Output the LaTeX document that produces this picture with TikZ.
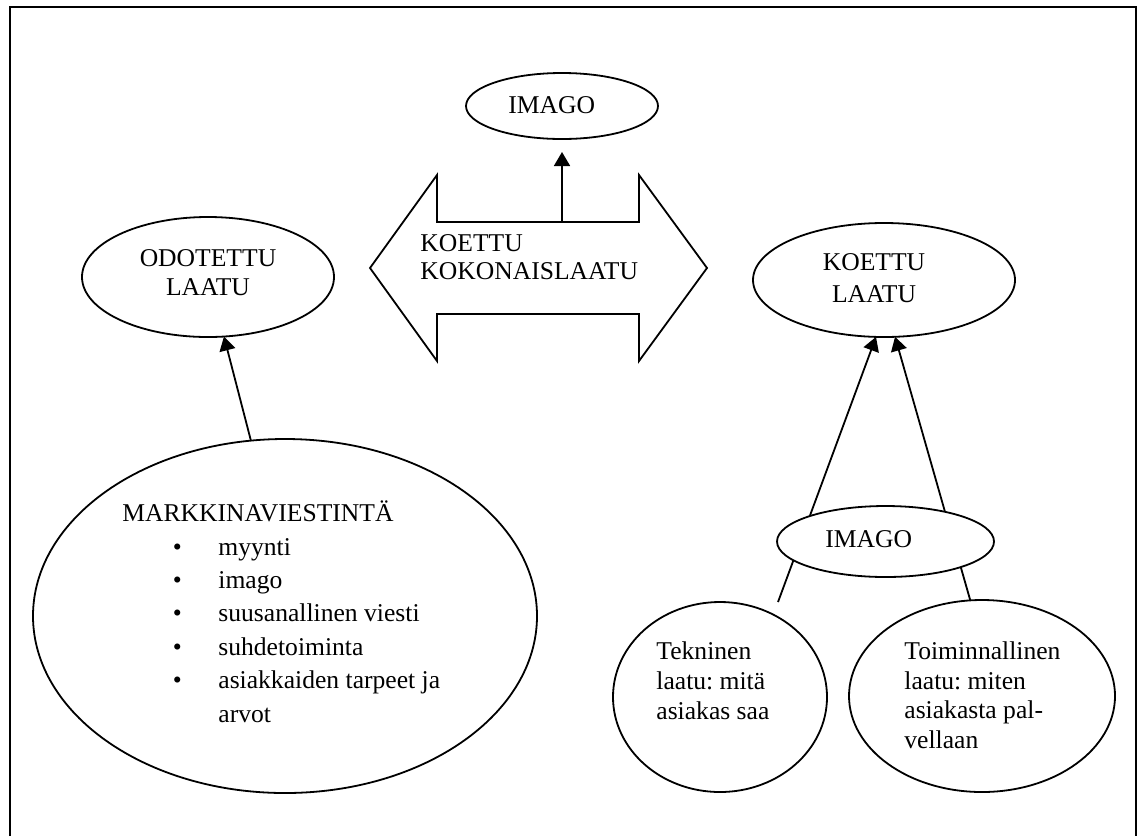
\documentclass[tikz,border=0pt]{standalone}
\usepackage{fontspec}
\setmainfont{Liberation Serif}
\usetikzlibrary{shapes.geometric,arrows.meta,positioning}
\frenchspacing

\begin{document}
\begin{tikzpicture}[x=0.5pt,y=-0.5pt,
    oval/.style={ellipse,draw,line width=0.9pt,inner sep=0pt,outer sep=0pt},
    txt/.style={inner sep=0pt,align=left,font=\fontsize{12.8}{#1}\selectfont},
    arrow/.style={-{Triangle[length=7pt,width=8pt]},line width=0.9pt}]
    \useasboundingbox (0,0) rectangle (1138,836);
    \draw[line width=1.2pt] (10,836) -- (10,7) -- (1136,7) -- (1136,836);
    % ellipses
    \node[oval,minimum width=96pt,minimum height=33pt] (imago) at (562,106) {};
    \node[oval,minimum width=126pt,minimum height=60pt] (odotettu) at (208,277) {};
    \node[oval,minimum width=131pt,minimum height=57pt] (koettu) at (884,280) {};
    \node[oval,minimum width=252pt,minimum height=177pt] (markkina) at (285,616) {};
    \node[oval,minimum width=107pt,minimum height=95pt] (tekninen) at (720,697) {};
    \node[oval,minimum width=133pt,minimum height=96pt] (toiminnallinen) at (982,696) {};
    % double arrow
    \draw[line width=0.9pt,fill=white] (370,268) -- (437,175) -- (437,222) -- (639,222) -- (639,175)
        -- (707,268) -- (639,361) -- (639,314) -- (437,314) -- (437,361) -- cycle;
    \coordinate (kokTop) at (562,222);
    \coordinate (tekTop) at (778,602);
    % connectors
    \draw[arrow,shorten >=6.5pt] (kokTop) -- (imago);
    \draw[arrow] (markkina.101) -- (odotettu.-75);
    \draw[arrow] (tekTop) -- (koettu.-98);
    \draw[arrow] (toiminnallinen.97) -- (koettu.-79);
    \node[oval,fill=white,minimum width=108.5pt,minimum height=35.5pt] (imagoR) at (885.5,541.5) {};
    % texts (base = last line)
    \node[txt=14pt,anchor=base west] (imagoTxt) at (508,113) {IMAGO};
    \node[txt=14pt,anchor=base west] (kokTxt) at (420,279) {KOETTU\\KOKONAISLAATU};
    \node[txt=14.5pt,align=center,anchor=base] (odoTxt) at (208,295) {ODOTETTU\\LAATU};
    \node[txt=16pt,align=center,anchor=base] (koeTxt) at (874,302) {KOETTU\\LAATU};
    \node[txt=16.7pt,anchor=base west] (mkTxt) at (122,722) {MARKKINAVIESTINTÄ\\
        \hspace*{27.5pt}\makebox[0pt]{\textbullet}\hspace*{20.5pt}myynti\\
        \hspace*{27.5pt}\makebox[0pt]{\textbullet}\hspace*{20.5pt}imago\\
        \hspace*{27.5pt}\makebox[0pt]{\textbullet}\hspace*{20.5pt}suusanallinen viesti\\
        \hspace*{27.5pt}\makebox[0pt]{\textbullet}\hspace*{20.5pt}suhdetoiminta\\
        \hspace*{27.5pt}\makebox[0pt]{\textbullet}\hspace*{20.5pt}asiakkaiden tarpeet ja\\
        \hspace*{48pt}arvot};
    \node[txt=14pt,anchor=base west] (imagoRTxt) at (825,547) {IMAGO};
    \node[txt=14.8pt,anchor=base west] (tekTxt) at (656,719) {Tekninen\\laatu: mitä\\asiakas saa};
    \node[txt=14.7pt,anchor=base west] (toimTxt) at (904,748) {Toiminnallinen\\laatu: miten\\asiakasta pal-\\vellaan};
\end{tikzpicture}
\end{document}
